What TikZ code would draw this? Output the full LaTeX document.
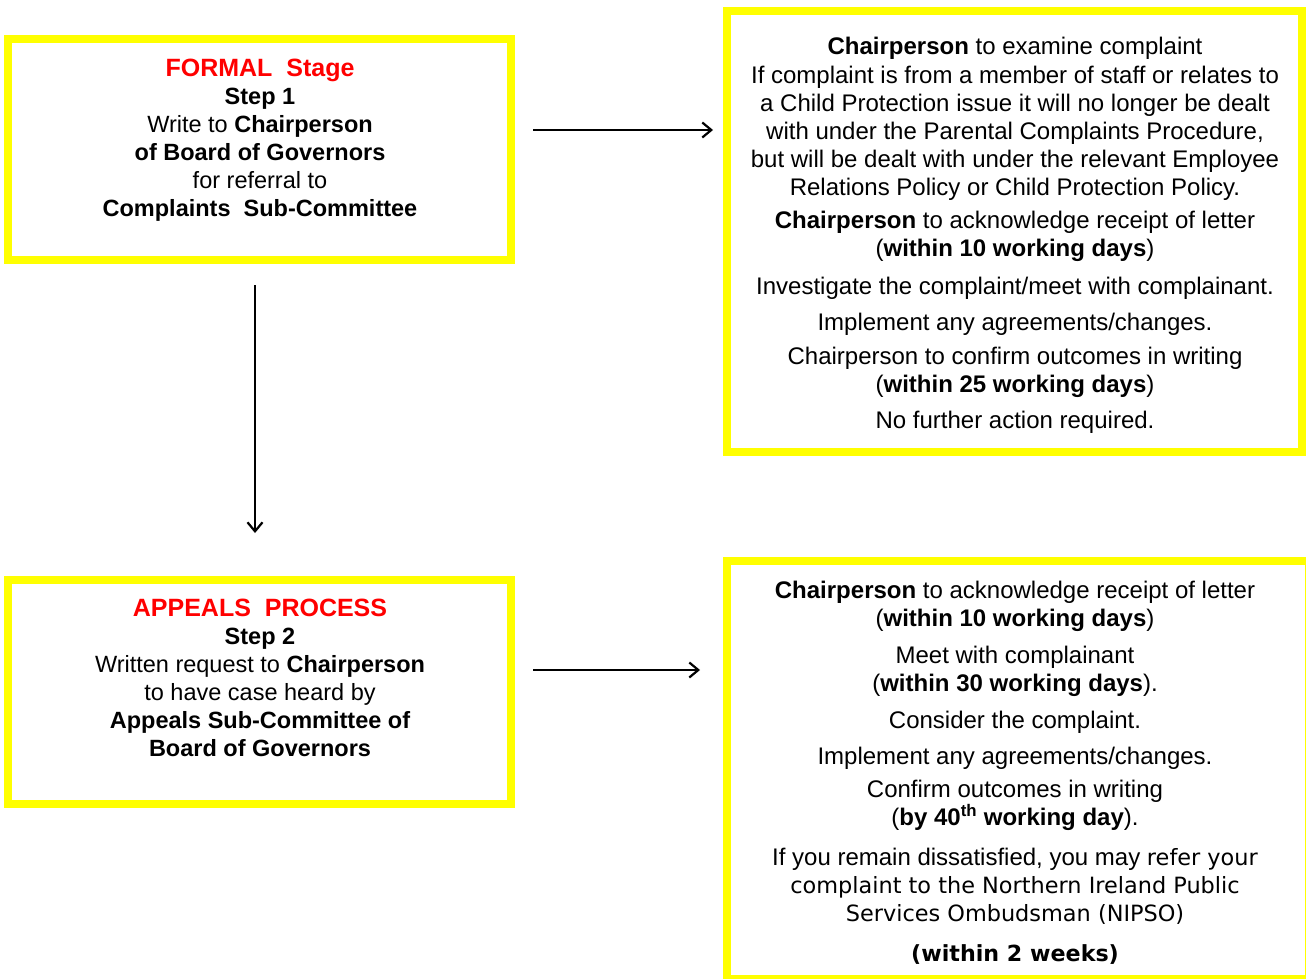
\documentclass[tikz,border=0pt]{standalone}
\usepackage{fontspec}
\setmainfont{Liberation Sans}
\newfontfamily\verd{DejaVu Sans}
\usetikzlibrary{arrows.meta}
\definecolor{yborder}{RGB}{255,255,0}
\definecolor{rtitle}{RGB}{255,0,0}
\begin{document}
\begin{tikzpicture}[x=1pt,y=-1pt,
  ybox/.style={draw=yborder, line width=8pt, inner sep=0pt, outer sep=0pt, fill=white},
  txt/.style={align=center, inner sep=0pt, anchor=north, font=\fontsize{24}{28}\selectfont},
  ltxt/.style={txt, font=\fontsize{23.5}{28}\selectfont},
  arr/.style={line width=2.2pt, -{Straight Barb[length=9pt,width=15pt]}}]
\useasboundingbox (0,0) rectangle (1306,979);
\fill[white] (0,0) rectangle (1306,979);
% boxes
\node[ybox, minimum width=503pt, minimum height=221pt] (b1) at (259.5,149.5) {};
\node[ybox, minimum width=575pt, minimum height=440.5pt] (b2) at (1014.5,231.75) {};
\node[ybox, minimum width=503pt, minimum height=224pt] (b3) at (259.5,692) {};
\node[ybox, minimum width=582pt, minimum height=418pt] (b4) at (1018,770) {};
% texts
\node[ltxt] (t1) at (260,59) {{\color{rtitle}\bfseries\fontsize{25}{28}\selectfont FORMAL\ \ Stage}\\
  \textbf{Step 1}\\
  Write to \textbf{Chairperson}\\
  \textbf{of Board of Governors}\\
  for referral to\\
  \textbf{Complaints\ \ Sub-Committee}};
\node[ltxt] (t3) at (260,599) {{\color{rtitle}\bfseries\fontsize{25}{28}\selectfont APPEALS\ \ PROCESS}\\
  \textbf{Step 2}\\
  Written request to \textbf{Chairperson}\\
  to have case heard by\\
  \textbf{Appeals Sub-Committee of}\\
  \textbf{Board of Governors}};
\node[txt] (t2) at (1015,37) {\textbf{Chairperson} to examine complaint\\[1pt]
  If complaint is from a member of staff or relates to\\
  a Child Protection issue it will no longer be dealt\\
  with under the Parental Complaints Procedure,\\
  but will be dealt with under the relevant Employee\\
  Relations Policy or Child Protection Policy.\\[5pt]
  \textbf{Chairperson} to acknowledge receipt of letter\\
  (\textbf{within 10 working days})\\[10pt]
  Investigate the complaint/meet with complainant.\\[8pt]
  Implement any agreements/changes.\\[6pt]
  Chairperson to confirm outcomes in writing\\
  (\textbf{within 25 working days})\\[8pt]
  No further action required.};
\node[txt] (t4) at (1015,581) {\textbf{Chairperson} to acknowledge receipt of letter\\
  (\textbf{within 10 working days})\\[9pt]
  Meet with complainant\\
  (\textbf{within 30 working days}).\\[9pt]
  Consider the complaint.\\[8pt]
  Implement any agreements/changes.\\[5pt]
  Confirm outcomes in writing\\
  (\textbf{by 40\textsuperscript{th} working day}).\\[12pt]
  If you remain dissatisfied, you may {\verd\fontsize{22.4}{28}\selectfont refer your}\\
  {\verd\fontsize{22.4}{28}\selectfont complaint to the Northern Ireland Public}\\
  {\verd\fontsize{22.4}{28}\selectfont Services Ombudsman (NIPSO)}\\[12pt]
  {\verd\bfseries\fontsize{22.2}{28}\selectfont (within 2 weeks)}};
% arrows
\draw[arr, shorten <=22pt, shorten >=14pt] (b1.east |- 0,130) -- (b2.west |- 0,130);
\draw[arr, shorten <=25pt, shorten >=47pt] (b1.south -| 255,0) -- (b3.north -| 255,0);
\draw[arr, shorten <=22pt, shorten >=27pt] (b3.east |- 0,670) -- (b4.west |- 0,670);
\end{tikzpicture}
\end{document}
